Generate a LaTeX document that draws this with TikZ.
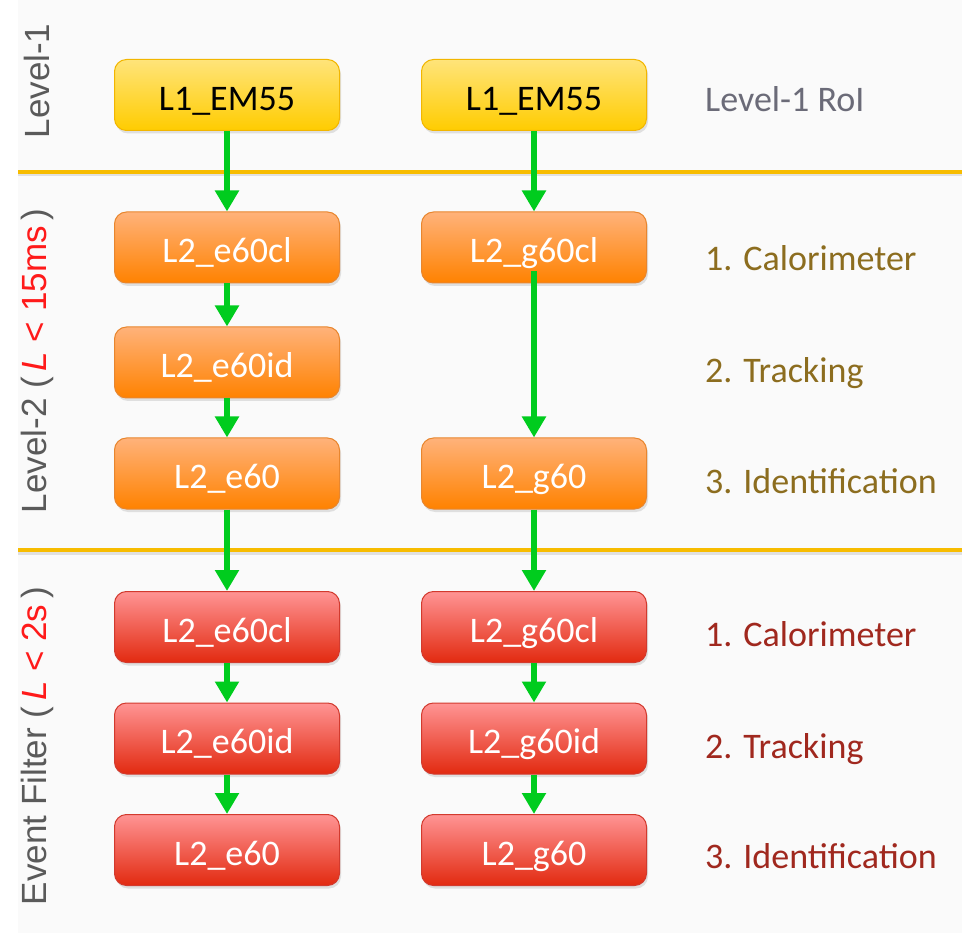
\documentclass[tikz,border=0pt]{standalone}
\usepackage{fontspec}
\setmainfont{Carlito}
\newfontfamily\arialf{Liberation Sans}
\usetikzlibrary{arrows.meta,shadows}
\definecolor{bggray}{HTML}{FAFAFA}
\definecolor{sepline}{HTML}{F7BC00}
\definecolor{arrowgreen}{HTML}{00CC1E}
\definecolor{yelTop}{HTML}{FFE47A}
\definecolor{yelBot}{HTML}{FFCC00}
\definecolor{yelDraw}{HTML}{F2B600}
\definecolor{oraTop}{HTML}{FFB27A}
\definecolor{oraBot}{HTML}{FF8200}
\definecolor{oraDraw}{HTML}{E8862E}
\definecolor{redTop}{HTML}{FF9494}
\definecolor{redBot}{HTML}{E22A10}
\definecolor{redDraw}{HTML}{D23A2E}
\definecolor{sidegray}{HTML}{5A5A5A}
\definecolor{sidered}{HTML}{FF1A1A}
\definecolor{roigray}{HTML}{6B6B78}
\definecolor{lvltwo}{HTML}{8C6D1F}
\definecolor{lvlef}{HTML}{A0281E}
\tikzset{
  box/.style={rounded corners=12pt, minimum width=225pt, minimum height=71pt,
    inner sep=0pt, font=\fontsize{36}{40}\selectfont,
    text height=39.6pt, text depth=9pt, line width=1pt,
    drop shadow={shadow xshift=1.5pt, shadow yshift=-3pt, opacity=0.22}},
  yelbox/.style={box, draw=yelDraw, top color=yelTop, bottom color=yelBot, text=black},
  orabox/.style={box, draw=oraDraw, top color=oraTop, bottom color=oraBot, text=white},
  redbox/.style={box, draw=redDraw, top color=redTop, bottom color=redBot, text=white},
  flow/.style={draw=arrowgreen, line width=5.5pt,
    -{Triangle[width=23pt,length=21pt]}},
  sepl/.style={draw=sepline, line width=4.5pt},
  sidelabel/.style={rotate=90, font=\arialf\fontsize{35}{40}\selectfont, text=sidegray, inner sep=0pt},
  rightlabel/.style={anchor=west, inner sep=0pt, font=\fontsize{36}{40}\selectfont,
    text height=39.6pt, text depth=9pt},
}
\begin{document}
\begin{tikzpicture}[x=1pt,y=-1pt]
\useasboundingbox (0,0) rectangle (962,933);
\fill[white] (0,0) rectangle (962,933);
\fill[bggray] (18,0) rectangle (962,933);

% separators
\coordinate (s1l) at (18,172); \coordinate (s1r) at (962,172);
\coordinate (s2l) at (18,550); \coordinate (s2r) at (962,550);
\draw[draw=black!12, line width=3pt] ([yshift=-3pt]s1l) -- ([yshift=-3pt]s1r);
\draw[draw=black!12, line width=3pt] ([yshift=-3pt]s2l) -- ([yshift=-3pt]s2r);
\draw[sepl] (s1l) -- (s1r);
\draw[sepl] (s2l) -- (s2r);

% side labels
\node[sidelabel] (sl1) at (37,81) {Level-1};
\node[sidelabel] (sl2) at (37,361) {Level-2 (\,\textcolor{sidered}{\textit{L} {<} 15ms}\,)};
\node[sidelabel] (sl3) at (37,746) {Event Filter (\,\textcolor{sidered}{\textit{L} {<} 2s}\,)};

% column 1
\node[yelbox] (a0) at (227,95) {L1\_EM55};
\node[orabox] (a1) at (227,247.5) {L2\_e60cl};
\node[orabox] (a2) at (227,362.5) {L2\_e60id};
\node[orabox] (a3) at (227,473.5) {L2\_e60};
\node[redbox] (a4) at (227,627) {L2\_e60cl};
\node[redbox] (a5) at (227,738.5) {L2\_e60id};
\node[redbox] (a6) at (227,850) {L2\_e60};

% column 2
\node[yelbox] (b0) at (534,95) {L1\_EM55};
\node[orabox] (b1) at (534,247.5) {L2\_g60cl};
\node[orabox] (b3) at (534,473.5) {L2\_g60};
\node[redbox] (b4) at (534,627) {L2\_g60cl};
\node[redbox] (b5) at (534,738.5) {L2\_g60id};
\node[redbox] (b6) at (534,850) {L2\_g60};

% right labels
\node[rightlabel, text=roigray] (r0) at (705,96.3) {Level-1 RoI};
\node[rightlabel, text=lvltwo] (r1) at (705,255.3) {1. Calorimeter};
\node[rightlabel, text=lvltwo] (r2) at (705,367.3) {2. Tracking};
\node[rightlabel, text=lvltwo] (r3) at (705,478.3) {3. Identification};
\node[rightlabel, text=lvlef] (r4) at (705,631.3) {1. Calorimeter};
\node[rightlabel, text=lvlef] (r5) at (705,742.8) {2. Tracking};
\node[rightlabel, text=lvlef] (r6) at (705,853.3) {3. Identification};

% arrows
\draw[flow] (a0.south) -- (a1.north);
\draw[flow] (a1.south) -- (a2.north);
\draw[flow] (a2.south) -- (a3.north);
\draw[flow] (a3.south) -- (a4.north);
\draw[flow] (a4.south) -- (a5.north);
\draw[flow] (a5.south) -- (a6.north);
\coordinate (b1in) at ([yshift=12pt]b1.south);
\draw[flow] (b0.south) -- (b1.north);
\draw[flow] (b1in) -- (b3.north);
\draw[flow] (b3.south) -- (b4.north);
\draw[flow] (b4.south) -- (b5.north);
\draw[flow] (b5.south) -- (b6.north);
\end{tikzpicture}
\end{document}
